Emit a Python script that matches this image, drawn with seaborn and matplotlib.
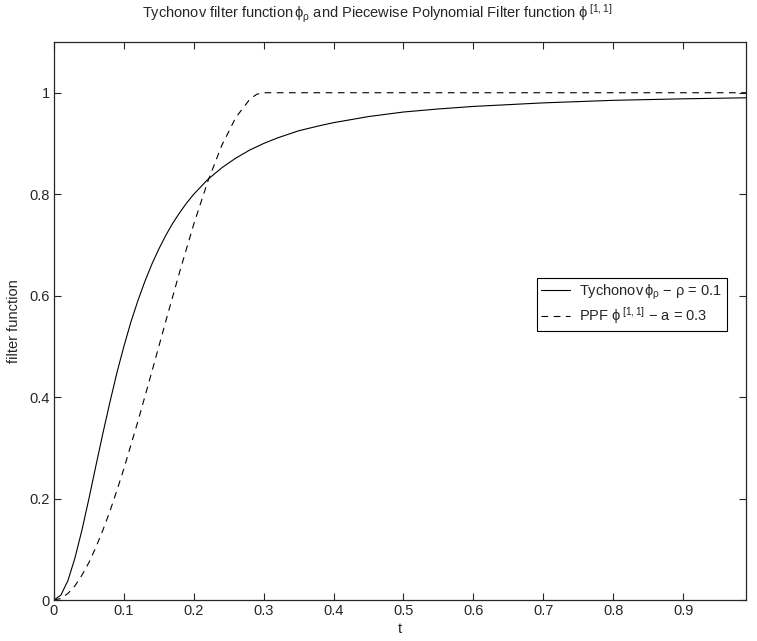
import numpy as np
import pandas as pd
import matplotlib
matplotlib.use("Agg")
import matplotlib.pyplot as plt
import seaborn as sns

# values
t_tych = [0, 0.01, 0.02, 0.03, 0.04, 0.05, 0.06, 0.07, 0.08, 0.09, 0.10, 0.11, 0.12,
          0.13, 0.14, 0.15, 0.16, 0.17, 0.18, 0.19, 0.20, 0.22, 0.24, 0.26, 0.28, 0.30,
          0.32, 0.35, 0.38, 0.40, 0.45, 0.50, 0.55, 0.60, 0.70, 0.80, 0.90, 0.99]
tychonov = [0, 0.0099, 0.0385, 0.083, 0.138, 0.200, 0.265, 0.329, 0.390, 0.448, 0.500,
            0.548, 0.590, 0.628, 0.662, 0.692, 0.719, 0.743, 0.764, 0.783, 0.800,
            0.829, 0.852, 0.871, 0.887, 0.900, 0.911, 0.925, 0.935, 0.941, 0.953,
            0.962, 0.968, 0.973, 0.980, 0.985, 0.988, 0.990]

t_ppf = [0, 0.01, 0.02, 0.03, 0.04, 0.05, 0.06, 0.07, 0.08, 0.09, 0.10, 0.12, 0.14,
         0.16, 0.18, 0.20, 0.22, 0.24, 0.26, 0.28, 0.29, 0.30, 0.99]
ppf = [0, 0.003, 0.013, 0.028, 0.049, 0.074, 0.104, 0.138, 0.175, 0.216, 0.259, 0.352,
       0.450, 0.550, 0.648, 0.741, 0.825, 0.896, 0.951, 0.987, 0.997, 1.0, 1.0]

x_ticks = [0, 0.1, 0.2, 0.3, 0.4, 0.5, 0.6, 0.7, 0.8, 0.9]
y_ticks = [0, 0.2, 0.4, 0.6, 0.8, 1]

sns.set_style("ticks")
plt.rcParams["font.family"] = ["Liberation Sans", "DejaVu Sans"]
plt.rcParams["mathtext.fontset"] = "custom"
plt.rcParams["mathtext.rm"] = "Liberation Sans"
plt.rcParams["mathtext.it"] = "Liberation Sans"
plt.rcParams["mathtext.bf"] = "Liberation Sans"

df_t = pd.DataFrame({"t": t_tych, "v": tychonov})
df_p = pd.DataFrame({"t": t_ppf, "v": ppf})

fs = 10.5

fig = plt.figure(figsize=(7.57, 6.41), dpi=100, facecolor="white")
ax = fig.add_axes([54 / 757, 41 / 641, 692 / 757, 558 / 641])

sns.lineplot(data=df_t, x="t", y="v", color="black", lw=0.8, ax=ax,
             label=r"Tychonov$\,\phi_\rho$ $-$ $\rho$ = 0.1")
sns.lineplot(data=df_p, x="t", y="v", color="black", lw=0.8, ax=ax,
             label=r"PPF $\phi^{\,[1,1]}$ $-$ a = 0.3")
ax.lines[1].set_dashes([6, 5])

ax.set_xlim(0, 0.99)
ax.set_ylim(0, 1.1)
ax.set_xticks(x_ticks)
ax.set_xticklabels([f"{v:g}" for v in x_ticks])
ax.set_yticks(y_ticks)
ax.set_yticklabels([f"{v:g}" for v in y_ticks])
ax.tick_params(direction="in", top=True, right=True, length=5, width=0.8,
               labelsize=fs, pad=3)
for s in ax.spines.values():
    s.set_visible(True)
    s.set_linewidth(0.9)

ax.set_xlabel("t", fontsize=fs, labelpad=3)
ax.set_ylabel("filter function", fontsize=fs, labelpad=6)

fig.text(377 / 757, 1 - 14 / 641,
         r"Tychonov filter function$\,\phi_\rho$ and Piecewise Polynomial Filter function $\phi^{\,[1,1]}$",
         fontsize=fs, ha="center", va="center")

leg = ax.legend(loc="center", bbox_to_anchor=(0.835, 0.53), fontsize=fs,
                frameon=True, fancybox=False, handlelength=2.0,
                borderpad=0.3, labelspacing=0.25, handletextpad=0.6)
leg.get_frame().set_edgecolor("black")
leg.get_frame().set_linewidth(0.8)
leg.get_frame().set_alpha(1)

fig.savefig("out.png", dpi=100)
